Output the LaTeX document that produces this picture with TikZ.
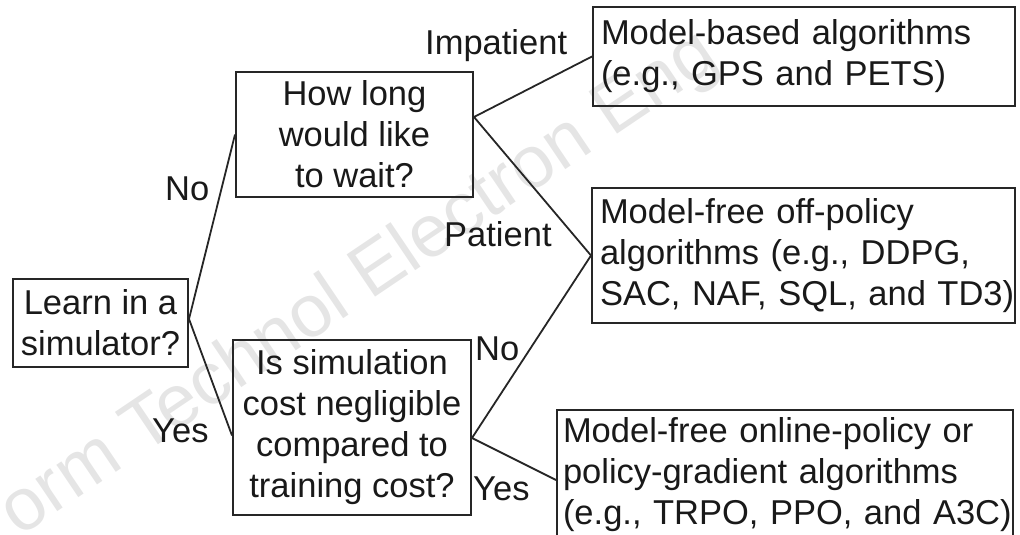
\documentclass[tikz,border=0pt]{standalone}
\usepackage{fontspec}
\setmainfont{Liberation Sans}
\usetikzlibrary{calc}
\begin{document}
\begin{tikzpicture}[x=1pt,y=-1pt,
  txt/.style={font=\fontsize{34.5}{41}\selectfont, text=black!90},
  box/.style={txt, draw=black!85, line width=2pt, rectangle, inner sep=0pt},
  cbox/.style={box, align=center},
  lbox/.style={box, align=left},
  lab/.style={txt, inner sep=0pt, anchor=base west},
  link/.style={draw=black!85, line width=1.8pt},
  wmark/.style={font=\fontsize{74}{74}\selectfont, text=black!10, rotate=34, inner sep=0pt}]
\useasboundingbox (0,0) rectangle (1020,535);

% watermark
\node[wmark] (wm) at (360,285) {orm Technol Electron Eng};

% boxes
\node[cbox, minimum width=175pt, minimum height=88pt] (learn) at (100.5,323) {Learn in a\\simulator?};
\node[cbox, minimum width=237pt, minimum height=125pt] (how) at (354.5,134.5) {How long\\would like\\to wait?};
\node[cbox, minimum width=238pt, minimum height=175pt] (cost) at (352,427.5) {Is simulation\\cost negligible\\compared to\\training cost?};
\node[lbox, inner xsep=8pt, text width=406pt, minimum height=99pt] (mb) at (804,56.5) {Model-based algorithms\\(e.g., GPS and PETS)};
\node[lbox, inner xsep=8pt, text width=407pt, minimum height=135pt] (off) at (803.5,255.5) {Model-free off-policy\\algorithms (e.g., DDPG,\\\mbox{SAC, NAF, SQL, and TD3)}};
\node[lbox, inner xsep=6pt, text width=444pt, minimum height=130pt] (on) at (785,475) {\mbox{Model-free online-policy or}\\\mbox{policy-gradient algorithms}\\\mbox{(e.g., TRPO, PPO, and A3C)}};

% junction points
\coordinate (j1) at ([yshift=4pt]learn.east);
\coordinate (j2) at ([yshift=17.5pt]how.east);
\coordinate (j3) at ([yshift=-10.5pt]cost.east);

% connectors
\draw[link] (how.west) -- (j1) -- ([yshift=-8pt]cost.west);
\draw[link] (mb.west) -- (j2) -- (off.west);
\draw[link] (off.west) -- (j3) -- ([yshift=-5pt]on.west);

% labels
\node[lab] (limp) at (425,55) {Impatient};
\node[lab] (lno1) at (165,200) {No};
\node[lab] (lpat) at (444,246) {Patient};
\node[lab] (lno2) at (475,360) {No};
\node[lab] (lyes1) at (152,442) {Yes};
\node[lab] (lyes2) at (473,500) {Yes};
\end{tikzpicture}
\end{document}
